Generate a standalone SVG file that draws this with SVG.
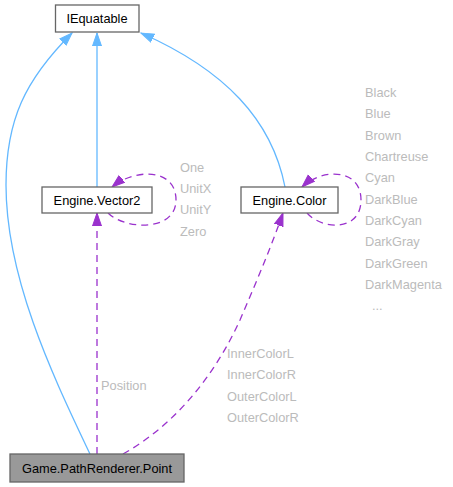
<svg xmlns="http://www.w3.org/2000/svg" width="453" height="487" viewBox="0 0 453 487">
<style>
.node rect{fill:#fff;stroke:#666;stroke-width:1.3}
.node.cur rect{fill:#999}
.node text{font-family:"Liberation Sans",Arial,sans-serif;font-size:12.8px;fill:#000;text-anchor:middle}
.lbl{font-family:"Liberation Sans",Arial,sans-serif;font-size:12.8px;fill:#bbb}
.inh{fill:none;stroke:#63b8ff;stroke-width:1.3}
.use{fill:none;stroke:#9a32cd;stroke-width:1.3;stroke-dasharray:7,5}
</style>
<defs>
<marker id="ab" markerUnits="userSpaceOnUse" markerWidth="14" markerHeight="11" refX="13" refY="5" orient="auto"><path d="M0,0.5 L13,5 L0,9.5 z" fill="#63b8ff" stroke="#63b8ff"/></marker>
<marker id="ap" markerUnits="userSpaceOnUse" markerWidth="14" markerHeight="11" refX="13" refY="5" orient="auto"><path d="M0,0.5 L13,5 L0,9.5 z" fill="#9a32cd" stroke="#9a32cd"/></marker>
</defs>
<g id="edges">
<path class="inh" d="M97,187 L97,33" marker-end="url(#ab)"/>
<path class="inh" d="M90,454 C55,380 6,280 6,185 C6,120 25,80 72,33" marker-end="url(#ab)"/>
<path class="inh" d="M285,187 C272,120 225,70 141,33" marker-end="url(#ab)"/>
<path class="use" d="M97,454 L97,213" marker-end="url(#ap)"/>
<path class="use" d="M123,454 C175,425 215,375 240,320 C255,285 270,250 283,213" marker-end="url(#ap)"/>
<path class="use" d="M108,213 C125,230 176,232 176,200 C176,168 135,168 112,187" marker-end="url(#ap)"/>
<path class="use" d="M307,213 C322,230 361,232 361,200 C361,168 322,168 302,187" marker-end="url(#ap)"/>
<text class="lbl" x="180" y="172">One</text>
<text class="lbl" x="180" y="193">UnitX</text>
<text class="lbl" x="180" y="214">UnitY</text>
<text class="lbl" x="180" y="236">Zero</text>
<text class="lbl" x="365" y="97">Black</text>
<text class="lbl" x="365" y="118">Blue</text>
<text class="lbl" x="365" y="140">Brown</text>
<text class="lbl" x="365" y="161">Chartreuse</text>
<text class="lbl" x="365" y="182">Cyan</text>
<text class="lbl" x="365" y="204">DarkBlue</text>
<text class="lbl" x="365" y="225">DarkCyan</text>
<text class="lbl" x="365" y="246">DarkGray</text>
<text class="lbl" x="365" y="268">DarkGreen</text>
<text class="lbl" x="365" y="289">DarkMagenta</text>
<text class="lbl" x="372" y="310">...</text>
<text class="lbl" x="101" y="390">Position</text>
<text class="lbl" x="227" y="358">InnerColorL</text>
<text class="lbl" x="227" y="379">InnerColorR</text>
<text class="lbl" x="227" y="401">OuterColorL</text>
<text class="lbl" x="227" y="422">OuterColorR</text>
</g>
<g id="IEquatable" class="node"><rect x="55.5" y="5" width="83.5" height="27"/><text x="97" y="23">IEquatable</text></g>
<g id="Engine.Vector2" class="node"><rect x="42" y="187" width="110" height="26"/><text x="97" y="204.5">Engine.Vector2</text></g>
<g id="Engine.Color" class="node"><rect x="241" y="187" width="97" height="26"/><text x="289.5" y="204.5">Engine.Color</text></g>
<g id="Game.PathRenderer.Point" class="node cur"><rect x="10" y="454" width="174" height="28"/><text x="97" y="472.5">Game.PathRenderer.Point</text></g>
</svg>
